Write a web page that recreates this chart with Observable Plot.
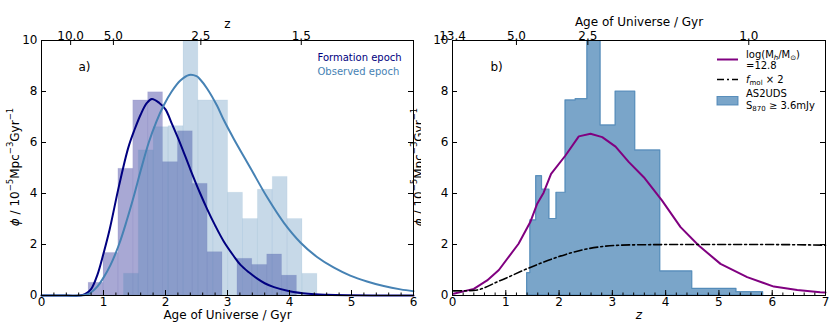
<!DOCTYPE html>
<html><head><meta charset="utf-8">
<script src="https://cdn.jsdelivr.net/npm/d3@7"></script>
<script src="https://cdn.jsdelivr.net/npm/@observablehq/plot@0.6"></script>
<style>
body{margin:0;background:#fff;}
#wrap{position:relative;width:830px;height:332px;overflow:hidden;font-family:"DejaVu Sans",sans-serif;background:#fff;}
#pa{position:absolute;left:0;top:0;width:421px;height:332px;overflow:hidden;}
#pb{position:absolute;left:421px;top:0;width:409px;height:332px;overflow:hidden;background:#fff;}
svg{overflow:hidden;display:block;}
</style></head><body>
<div id="wrap"><div id="pa"></div><div id="pb"></div></div>
<script>
// ---------- Panel a data ----------
const formEdges = [0.76,1.00,1.24,1.48,1.72,1.96,2.20,2.44,2.68,2.92,3.16,3.40,3.64,3.88,4.12];
const formValues = [0.50,1.67,4.97,7.65,7.97,5.23,6.44,4.38,1.70,0.00,1.44,1.20,1.61,0.78];
const obsEdges = [1.33,1.57,1.81,2.05,2.29,2.53,2.77,3.01,3.25,3.49,3.73,3.97,4.21,4.45];
const obsValues = [0.85,5.69,6.60,6.64,11.0,7.65,7.65,4.03,3.00,4.15,4.65,3.00,0.85];
const formCurveAge = [0,0.3,0.6,0.7,0.8,0.9,1.0,1.1,1.25,1.4,1.5,1.6,1.7,1.78,1.9,2.0,2.1,2.24,2.4,2.56,2.67,2.8,2.94,3.1,3.21,3.35,3.48,3.6,3.75,4.0,4.3,4.6,5.0,5.5,6.0];
const formCurvePhi = [0,0,0,0.05,0.25,0.8,1.65,2.6,4.3,5.8,6.5,7.1,7.55,7.71,7.55,7.3,6.75,5.95,4.95,4.0,3.4,2.75,2.12,1.55,1.2,0.9,0.66,0.48,0.33,0.17,0.07,0.03,0.01,0,0];
const obsCurveAge = [0,0.3,0.6,0.75,0.9,1.0,1.11,1.25,1.37,1.49,1.6,1.73,1.85,1.97,2.1,2.24,2.38,2.5,2.56,2.67,2.83,2.94,3.1,3.37,3.64,3.91,4.18,4.45,4.71,4.98,5.25,5.52,5.79,6.0];
const obsCurvePhi = [0,0,0,0.05,0.35,0.7,1.18,2.0,2.9,3.9,4.9,6.0,6.8,7.45,8.0,8.43,8.65,8.6,8.47,8.12,7.45,6.88,6.15,5.0,3.85,2.85,2.07,1.5,1.1,0.78,0.55,0.37,0.24,0.17];
const ageTicks = [0,1,2,3,4,5,6];
const phiTicks = [0,2,4,6,8,10];
const zTopLabels = ["10.0","5.0","2.5","1.5"];
const zTopAges = [0.47,1.16,2.57,4.19];

// ---------- Panel b data ----------
const udsEdges = [1.40,1.46,1.57,1.68,1.82,1.95,2.12,2.31,2.53,2.78,3.06,3.43,3.90,4.50,5.33,5.83];
const udsValues = [0.88,2.95,4.68,4.15,3.00,4.03,7.65,7.70,10.8,6.67,8.00,5.69,0.95,0.26,0.13];
const haloZ = [0.02,0.40,0.65,0.87,1.24,1.46,1.59,1.71,1.85,2.12,2.37,2.59,2.81,3.06,3.31,3.59,3.93,4.28,4.62,5.03,5.53,6.03,6.47,6.90,7.0];
const haloPhi = [0.07,0.26,0.59,1.0,2.03,2.88,3.6,4.03,4.77,5.49,6.24,6.34,6.21,5.84,5.23,4.64,3.73,2.68,1.96,1.24,0.72,0.35,0.22,0.13,0.12];
const fmolZ = [0.02,0.40,0.9,1.4,1.96,2.46,3.03,3.53,4.5,5.5,6.5,7.0];
const fmolPhi = [0.18,0.2,0.59,1.05,1.5,1.8,1.96,1.99,2.0,2.0,1.99,1.97];
const zTicks = [0,1,2,3,4,5,6,7];
const ageTopLabels = ["13.4","5.0","2.5","1.0"];
const ageTopZ = [0,1.2,2.54,5.56];

const H = 332, MT = 40, MB = 37;
const innerH = H - MT - MB;
const FONT = "DejaVu Sans";

function axisMarks(xTicks, minor, topVals, topLabels, innerW) {
  return [
    Plot.tickX(xTicks, {x: d => d, insetTop: innerH - 5, stroke: "black"}),
    Plot.tickX(minor, {x: d => d, insetTop: innerH - 2.5, stroke: "black"}),
    Plot.tickX(topVals, {x: d => d, insetBottom: innerH - 5, stroke: "black"}),
    Plot.tickY(phiTicks, {y: d => d, insetRight: innerW - 5, stroke: "black"}),
    Plot.tickY(phiTicks, {y: d => d, insetLeft: innerW - 5, stroke: "black"}),
    Plot.text(xTicks, {x: d => d, text: d => String(d), frameAnchor: "bottom", dy: 10, fontSize: 12}),
    Plot.text(phiTicks, {y: d => d, text: d => String(d), frameAnchor: "left", dx: -4, textAnchor: "end", fontSize: 12}),
    Plot.text(topVals, {x: d => d, text: (d, i) => topLabels[i], frameAnchor: "top", dy: -9, fontSize: 12}),
    Plot.frame({stroke: "black", strokeWidth: 1})
  ];
}

function addYLabel(svg, x, y) {
  const t = d3.select(svg).append("text")
    .attr("transform", `translate(${x},${y}) rotate(-90)`)
    .attr("text-anchor", "middle").attr("dominant-baseline", "middle")
    .attr("font-family", FONT).attr("font-size", 12).attr("fill", "black");
  t.append("tspan").attr("font-style", "italic").text("ϕ");
  t.append("tspan").text(" / 10");
  t.append("tspan").attr("font-size", 8.5).attr("dy", -5).text("−5");
  t.append("tspan").attr("dy", 5).text("Mpc");
  t.append("tspan").attr("font-size", 8.5).attr("dy", -5).text("−3");
  t.append("tspan").attr("dy", 5).text("Gyr");
  t.append("tspan").attr("font-size", 8.5).attr("dy", -5).text("−1");
}

// ---------- Panel a ----------
const WA = 421, MLA = 41, MRA = 8;
const formBins = formValues.map((v, i) => ({x1: formEdges[i], x2: formEdges[i + 1], y1: 0, y2: v}));
const obsBins = obsValues.map((v, i) => ({x1: obsEdges[i], x2: obsEdges[i + 1], y1: 0, y2: v}));
const formCurve = formCurveAge.map((a, i) => ({x: a, y: formCurvePhi[i]}));
const obsCurve = obsCurveAge.map((a, i) => ({x: a, y: obsCurvePhi[i]}));

const plotA = Plot.plot({
  width: WA, height: H, marginTop: MT, marginBottom: MB, marginLeft: MLA, marginRight: MRA,
  x: {domain: [0, 6], axis: null},
  y: {domain: [0, 10], axis: null},
  style: {fontFamily: FONT, fontSize: "12px", background: "white", color: "black"},
  marks: [
    Plot.rect(formBins, {x1: "x1", x2: "x2", y1: "y1", y2: "y2", fill: "navy", fillOpacity: 0.34, stroke: "navy", strokeOpacity: 0.05, clip: true}),
    Plot.rect(obsBins, {x1: "x1", x2: "x2", y1: "y1", y2: "y2", fill: "steelblue", fillOpacity: 0.3, stroke: "steelblue", strokeOpacity: 0.06, clip: true}),
    Plot.line(formCurve, {x: "x", y: "y", stroke: "navy", strokeWidth: 2, curve: "catmull-rom"}),
    Plot.line(obsCurve, {x: "x", y: "y", stroke: "steelblue", strokeWidth: 2, curve: "catmull-rom"}),
    ...axisMarks(ageTicks, d3.range(0, 6.001, 0.2), zTopAges, zTopLabels, WA - MLA - MRA),
    Plot.text(["z"], {frameAnchor: "top", dy: -21, text: d => d, fontSize: 12}),
    Plot.text(["Age of Universe / Gyr"], {frameAnchor: "bottom", dy: 23, text: d => d, fontSize: 12}),
    Plot.text(["a)"], {frameAnchor: "top-left", dx: 37, dy: 22, text: d => d, fontSize: 12, textAnchor: "start"}),
    Plot.text(["Formation epoch"], {frameAnchor: "top-left", dx: 276, dy: 13, text: d => d, fontSize: 10, textAnchor: "start", fill: "navy"}),
    Plot.text(["Observed epoch"], {frameAnchor: "top-left", dx: 276, dy: 27, text: d => d, fontSize: 10, textAnchor: "start", fill: "steelblue"})
  ]
});
document.getElementById("pa").appendChild(plotA);
addYLabel(plotA, 15, 167);
addYLabel(plotA, 419, 167);

// ---------- Panel b ----------
const WB = 409, MLB = 31, MRB = 5;
const udsStep = udsEdges.map((e, i) => ({x: e, y: i < udsValues.length ? udsValues[i] : udsValues[udsValues.length - 1]}));
const halo = haloZ.map((z, i) => ({x: z, y: haloPhi[i]}));
const fmol = fmolZ.map((z, i) => ({x: z, y: fmolPhi[i]}));

const plotB = Plot.plot({
  width: WB, height: H, marginTop: MT, marginBottom: MB, marginLeft: MLB, marginRight: MRB,
  x: {domain: [0, 7], axis: null},
  y: {domain: [0, 10], axis: null},
  style: {fontFamily: FONT, fontSize: "12px", background: "white", color: "black"},
  marks: [
    Plot.areaY(udsStep, {x: "x", y: "y", curve: "step-after", fill: "steelblue", fillOpacity: 0.72, stroke: "steelblue", strokeOpacity: 0.85, strokeWidth: 1.2, clip: true}),
    Plot.line(halo, {x: "x", y: "y", stroke: "purple", strokeWidth: 2}),
    Plot.line(fmol, {x: "x", y: "y", stroke: "black", strokeWidth: 1.6, strokeDasharray: "8,3,2,3", curve: "monotone-x"}),
    ...axisMarks(zTicks, d3.range(0, 7.001, 0.2), ageTopZ, ageTopLabels, WB - MLB - MRB),
    Plot.text(["Age of Universe / Gyr"], {frameAnchor: "top", dy: -23, text: d => d, fontSize: 12}),
    Plot.text(["z"], {frameAnchor: "bottom", dy: 23, text: d => d, fontSize: 12, fontStyle: "italic"}),
    Plot.text(["b)"], {frameAnchor: "top-left", dx: 38, dy: 22, text: d => d, fontSize: 12, textAnchor: "start"})
  ]
});
document.getElementById("pb").appendChild(plotB);

// legend b
(function () {
  const g = d3.select(plotB).append("g").attr("font-family", FONT).attr("font-size", 10)
    .attr("fill", "black").attr("text-anchor", "start");
  const lx1 = 296, lx2 = 317, tx = 325;
  g.append("line").attr("x1", lx1).attr("x2", lx2).attr("y1", 59.5).attr("y2", 59.5).attr("stroke", "purple").attr("stroke-width", 2);
  const t1 = g.append("text").attr("x", tx).attr("y", 57.5).attr("text-anchor", "start");
  t1.append("tspan").text("log(M");
  t1.append("tspan").attr("font-size", 7).attr("font-style", "italic").attr("dy", 2).text("h");
  t1.append("tspan").attr("dy", -2).text("/M");
  t1.append("tspan").attr("font-size", 7).attr("dy", 2).text("⊙");
  t1.append("tspan").attr("dy", -2).text(")");
  g.append("text").attr("x", tx).attr("y", 69).attr("text-anchor", "start").text("=12.8");
  g.append("line").attr("x1", lx1).attr("x2", lx2).attr("y1", 79.5).attr("y2", 79.5).attr("stroke", "black").attr("stroke-width", 1.6).attr("stroke-dasharray", "7,3,2,3");
  const t2 = g.append("text").attr("x", tx).attr("y", 83).attr("text-anchor", "start");
  t2.append("tspan").attr("font-style", "italic").text("f");
  t2.append("tspan").attr("font-size", 7).attr("dy", 2).text("mol");
  t2.append("tspan").attr("dy", -2).text(" × 2");
  g.append("rect").attr("x", lx1).attr("y", 96.5).attr("width", lx2 - lx1).attr("height", 8.5)
    .attr("fill", "steelblue").attr("fill-opacity", 0.72).attr("stroke", "steelblue").attr("stroke-opacity", 0.85);
  g.append("text").attr("x", tx).attr("y", 96.5).attr("text-anchor", "start").text("AS2UDS");
  const t3 = g.append("text").attr("x", tx).attr("y", 109).attr("text-anchor", "start");
  t3.append("tspan").text("S");
  t3.append("tspan").attr("font-size", 7).attr("dy", 2).text("870");
  t3.append("tspan").attr("dy", -2).text(" ≥ 3.6mJy");
})();
</script>
</body></html>
